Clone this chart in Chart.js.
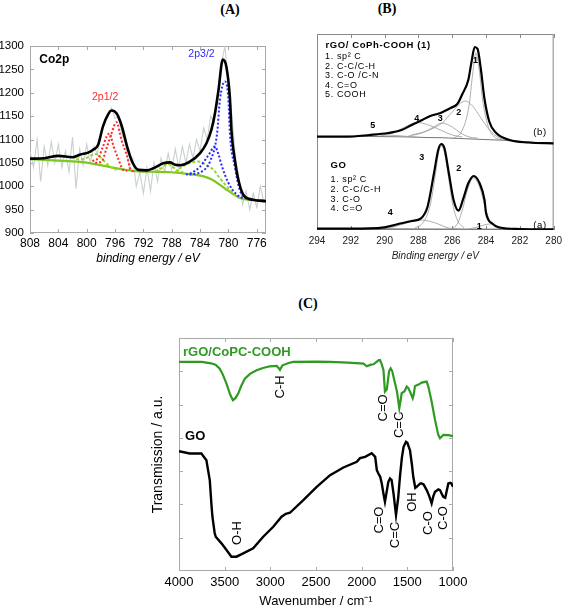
<!DOCTYPE html>
<html>
<head>
<meta charset="utf-8">
<script src="https://cdn.jsdelivr.net/npm/chart.js@4.4.1/dist/chart.umd.min.js"></script>
<style>
    body { margin: 0; background: #fff; width: 567px; height: 608px; position: relative; overflow: hidden; }
    canvas { position: absolute; }
    .panel-title { position: absolute; transform: translate(-50%, -50%); font: bold 14px "Liberation Serif", "DejaVu Serif", serif; }
</style>
</head>
<body>
<div class="panel-title" style="left:230px; top:10px;">(A)</div>
<div class="panel-title" style="left:387px; top:9px;">(B)</div>
<div class="panel-title" style="left:308px; top:304px;">(C)</div>
<canvas id="co2pChart" width="283" height="290" style="left:0; top:0;"></canvas>
<canvas id="c1sChart" width="284" height="290" style="left:283px; top:0;"></canvas>
<canvas id="irChart" width="437" height="318" style="left:130px; top:290px;"></canvas>
<script>
// (A) Co2p XPS, [binding energy eV, counts]
const co2pXTicks = [808, 804, 800, 796, 792, 788, 784, 780, 776];
const co2pYTicks = [900, 950, 1000, 1050, 1100, 1150, 1200, 1250, 1300];
const co2pRaw = [[808,1075],[807.5,1040],[807,1100],[806.5,1010],[806,1085],[805.5,1045],[805,1095],[804.5,1050],[804,1090],[803.5,1040],[803,1075],[802.5,1030],[802,1105],[801.5,995],[801,1080],[800.5,1045],[800,1090],[799.5,1050],[799,1085],[798.5,1070],[798,1110],[797.5,1135],[797,1150],[796.5,1168],[796,1145],[795.5,1150],[795,1110],[794.5,1090],[794,1040],[793.5,1060],[793,1000],[792.5,1030],[792,985],[791.5,1040],[791,990],[790.5,1050],[790,1010],[789.5,1060],[789,1030],[788.5,1070],[788,1035],[787.5,1080],[787,1040],[786.5,1085],[786,1050],[785.5,1090],[785,1060],[784.5,1100],[784,1075],[783.5,1125],[783,1100],[782.5,1150],[782,1135],[781.5,1200],[781,1260],[780.5,1300],[780,1220],[779.5,1150],[779,1060],[778.5,1015],[778,960],[777.5,990],[777,950],[776.5,985],[776,955],[775.5,1000],[775,965]];
const co2pEnvelope = [[808,1059],[806,1060],[804,1065],[802,1062],[800.9,1068],[799.8,1072],[799.1,1078],[798.4,1088],[797.7,1128],[796.9,1156],[796.5,1162],[795.8,1156],[795.1,1131],[794.3,1085],[793.6,1053],[792.7,1035],[791.5,1034],[790.5,1039],[789.2,1049],[788.3,1051],[787.5,1046],[786.8,1045],[785.4,1053],[784,1071],[783.1,1092],[782.4,1121],[781.9,1156],[781.4,1206],[780.8,1271],[780.3,1256],[779.8,1190],[779.55,1114],[779.1,1057],[778.6,1014],[777.9,982],[776.5,971],[774.7,968]];
const co2pBackground = [[808,1058],[804,1055],[801,1052],[799,1048],[797,1042],[795.3,1037],[793.5,1033],[791,1031],[788.2,1030],[785.5,1026],[783.5,1021],[782.3,1014],[781.2,1003],[780.4,994],[779.8,988],[779,980],[778.4,975],[777,971],[774.7,970]];
const co2pRedA = [[799.2,1054],[798.4,1060],[797.7,1085],[797.2,1106],[796.8,1113],[796.2,1085],[795.5,1057],[794.9,1036],[794.3,1033]];
const co2pRedB = [[798.8,1050],[797.9,1053],[797.2,1081],[796.5,1113],[795.8,1137],[795.1,1099],[794.3,1064],[793.9,1039],[793.2,1030]];
const co2pBlueA = [[785.5,1025],[784.6,1027],[783.8,1031],[782.6,1053],[781.6,1113],[781.2,1185],[780.5,1224],[780.0,1185],[779.8,1114],[779.1,1042],[778.4,992],[777.6,975],[776.8,971]];
const co2pBlueB = [[786,1025],[785.4,1027],[784,1042],[782.8,1067],[781.9,1085],[781.4,1068],[780.9,1042],[780.0,1007],[778.8,982],[777.8,973]];
const co2pSatA = [[801.5,1058],[800.5,1058],[799.6,1064],[798.8,1069],[798.2,1064],[797.7,1056],[796.7,1042],[795.8,1035]];
const co2pSatB = [[790.3,1032],[789.3,1040],[788.6,1048],[788.0,1043],[787.2,1034],[786.4,1030]];
const co2pSatC = [[787.5,1030],[786.8,1039],[785.6,1049],[784.2,1053],[783.3,1047],[782.1,1035],[781.2,1017],[780,996],[778.8,978],[777.8,973]];

// (B) C1s XPS, [binding energy eV, offset intensity]
const c1sXTicks = [294, 292, 290, 288, 286, 284, 282, 280];
const rgoEnvelope = [[294,93.3],[292.3,93.3],[290.9,95],[289.8,97],[289,100],[288.4,105],[287.9,109],[287.3,114],[286.7,117],[286.1,122],[285.7,126],[285.4,136],[285.05,150],[284.86,168],[284.67,183],[284.5,181],[284.3,160],[284.1,132],[283.8,108],[283.4,97],[282.6,90],[281.5,87.5],[280,86.7]];
const rgoBase = [[294,93.5],[290.9,93.5],[283.4,90],[280,86.3]];
const rgoPeak1 = [[286,91],[285.4,100],[285.0,125],[284.8,155],[284.6,177],[284.4,160],[284.2,130],[283.9,105],[283.5,93],[283,90]];
const rgoPeak2 = [[288.4,95],[287.5,99],[286.6,107],[286,118],[285.5,127],[285.2,129],[284.8,124],[284.3,112],[283.8,100],[283.2,92],[282.6,89.5]];
const rgoPeak3 = [[288.6,94],[287.8,97],[287.2,102],[286.6,107],[286,103],[285.5,97],[285,93],[284.5,92]];
const rgoPeak4 = [[290.2,94.5],[289.5,97],[288.8,103],[288.1,107.5],[287.4,105],[286.7,100],[286,95],[285.4,93]];
const rgoPeak5 = [[292.5,93.5],[291.3,94.3],[290.3,95],[289.3,94.5],[288,92.5]];
const goEnvelope = [[294,1.3],[290.9,1.7],[290,2.7],[289,6.7],[288.4,9],[287.85,11.7],[287.46,23.3],[287.08,56.7],[286.83,80],[286.65,86],[286.46,81.7],[286.2,56.7],[285.92,30],[285.63,19.3],[285.34,31.7],[285.05,46.7],[284.73,54],[284.38,46.7],[284.09,30],[284.0,17],[283.6,6],[283.2,2.5],[282,1],[280,0.7]];
const goBase = [[294,1.3],[280,0.7]];
const goPeak1 = [[285,1],[284.5,3],[284.0,5.5],[283.7,6],[283.3,3.5],[282.8,1]];
const goPeak2 = [[286,1.5],[285.7,6],[285.4,20],[285.1,40],[284.75,52],[284.4,44],[284.1,26],[283.8,10],[283.4,2.5],[283,1]];
const goPeak3 = [[288.2,2],[287.7,8],[287.3,25],[287,55],[286.8,78],[286.65,84],[286.5,80],[286.25,56],[286,28],[285.7,10],[285.3,2]];
const goPeak4 = [[290.5,1.5],[289.5,3],[288.6,7.5],[287.8,10],[287,7],[286.2,2],[285.5,1]];

// (C) FTIR, [wavenumber cm-1, offset transmission]
const irXTicks = [4000, 3500, 3000, 2500, 2000, 1500, 1000];
const irYTicks = [1, 2, 3, 4, 5, 6];
const irRgo = [[4000,6.28],[3750,6.28],[3650,6.24],[3600,6.2],[3554,6.08],[3520,5.9],[3480,5.63],[3440,5.3],[3410,5.13],[3380,5.2],[3352,5.33],[3320,5.55],[3279,5.78],[3220,5.93],[3150,6.03],[3080,6.1],[3005,6.15],[2930,6.16],[2910,6.1],[2895,6.04],[2880,6.12],[2866,6.18],[2800,6.25],[2750,6.28],[2500,6.29],[2346,6.28],[2150,6.26],[1980,6.23],[1944,6.15],[1900,6.2],[1870,6.21],[1816,6.33],[1799,6.34],[1779,6.2],[1761,6.03],[1745,5.39],[1725,5.45],[1700,6.0],[1683,6.09],[1665,6.0],[1640,5.7],[1614,5.4],[1588,4.89],[1575,5.1],[1562,5.34],[1530,5.4],[1507,5.54],[1490,5.5],[1471,5.39],[1441,5.19],[1430,5.3],[1416,5.56],[1377,5.6],[1343,5.66],[1288,5.69],[1270,5.54],[1234,5.09],[1197,4.54],[1161,4.09],[1142,3.99],[1120,4.05],[1106,4.09],[1050,4.08],[1015,4.06],[1000,4.04]];
const irGo = [[4000,3.6],[3883,3.53],[3755,3.53],[3700,3.33],[3680,3.0],[3663,2.73],[3645,2.0],[3634,1.63],[3610,1.15],[3598,1.03],[3535,0.83],[3480,0.63],[3426,0.43],[3371,0.43],[3297,0.53],[3188,0.68],[3078,1.03],[2968,1.33],[2877,1.63],[2830,1.72],[2785,1.75],[2639,2.13],[2492,2.53],[2346,2.88],[2200,3.11],[2053,3.28],[2018,3.39],[1962,3.43],[1890,3.54],[1852,3.43],[1834,3.03],[1817,2.93],[1797,2.83],[1780,2.63],[1760,2.3],[1745,2.08],[1725,2.4],[1708,2.68],[1690,2.78],[1672,2.73],[1650,2.3],[1624,1.68],[1600,2.2],[1581,2.83],[1560,3.4],[1541,3.73],[1515,3.88],[1500,3.85],[1471,3.63],[1450,3.2],[1435,2.83],[1413,2.5],[1398,2.53],[1358,2.63],[1343,2.63],[1322,2.6],[1288,2.43],[1260,2.25],[1234,2.03],[1215,2.25],[1197,2.38],[1160,2.45],[1142,2.43],[1120,2.3],[1106,2.23],[1085,2.2],[1051,2.63],[1030,2.65],[1018,2.63],[1000,2.53]];

const SANS = '"Liberation Sans", Arial, sans-serif';
Chart.defaults.color = "#000";
Chart.defaults.font.family = SANS;

const xy = pairs => pairs.map(([x, y]) => ({ x, y }));
const plain = value => String(value);
const noGrid = { display: false, drawTicks: false };

// box around the plot + inward tick marks on both sides
const frameTicks = {
    id: "frameTicks",
    beforeDatasetsDraw(chart, args, opts) {
        const { ctx, chartArea: { left, right, top, bottom } } = chart;
        const len = opts.length || 4;
        ctx.save();
        ctx.strokeStyle = opts.color || "#999";
        ctx.lineWidth = 1;
        ctx.strokeRect(left + 0.5, top + 0.5, right - left - 1, bottom - top - 1);
        (opts.axes || []).forEach(id => {
            const scale = chart.scales[id];
            scale.ticks.forEach(t => {
                const p = Math.round(scale.getPixelForValue(t.value)) + 0.5;
                ctx.beginPath();
                if (scale.isHorizontal()) {
                    ctx.moveTo(p, bottom); ctx.lineTo(p, bottom - len);
                    ctx.moveTo(p, top); ctx.lineTo(p, top + len);
                } else {
                    ctx.moveTo(left, p); ctx.lineTo(left + len, p);
                    ctx.moveTo(right, p); ctx.lineTo(right - len, p);
                }
                ctx.stroke();
            });
        });
        ctx.restore();
    }
};

// text labels placed at data coordinates
const notes = {
    id: "notes",
    afterDatasetsDraw(chart, args, opts) {
        const { ctx, scales: { x, y } } = chart;
        (opts.items || []).forEach(n => {
            ctx.save();
            ctx.translate(x.getPixelForValue(n.x), y.getPixelForValue(n.y));
            if (n.rotate) ctx.rotate(n.rotate * Math.PI / 180);
            ctx.font = n.font;
            ctx.fillStyle = n.color || "#000";
            ctx.textAlign = n.align || "center";
            ctx.textBaseline = "middle";
            if (n.spacing) ctx.letterSpacing = n.spacing;
            ctx.fillText(n.text, 0, 0);
            ctx.restore();
        });
    }
};

const line = (data, color, width, extra) => Object.assign({
    data: xy(data),
    borderColor: color,
    borderWidth: width,
    pointRadius: 0,
    fill: false,
    cubicInterpolationMode: "monotone"
}, extra || {});

const fixedTicks = list => scale => { scale.ticks = list.map(v => ({ value: v })); };

document.addEventListener("DOMContentLoaded", () => {
    // Chart.js - (A) Co2p
    new Chart(document.getElementById("co2pChart"), {
        type: "line",
        data: {
            datasets: [
                line(co2pEnvelope, "#000", 2.6),
                line(co2pRedA, "#ff2a2a", 2, { borderDash: [2, 2] }),
                line(co2pRedB, "#ff2a2a", 2, { borderDash: [2, 2] }),
                line(co2pBlueA, "#2b2bff", 2, { borderDash: [2, 2] }),
                line(co2pBlueB, "#2b2bff", 2, { borderDash: [2, 2] }),
                line(co2pSatA, "#99d42a", 2, { borderDash: [3, 2] }),
                line(co2pSatB, "#99d42a", 2, { borderDash: [3, 2] }),
                line(co2pSatC, "#99d42a", 2, { borderDash: [3, 2] }),
                line(co2pBackground, "#7cc81e", 2.2),
                line(co2pRaw, "#c8d0d2", 1.1, { cubicInterpolationMode: "default", tension: 0 })
            ]
        },
        plugins: [frameTicks, notes],
        options: {
            responsive: false,
            animation: false,
            devicePixelRatio: 1,
            layout: { padding: { left: 0, top: 46, right: 17, bottom: 0 } },
            plugins: {
                legend: { display: false },
                tooltip: { enabled: false },
                frameTicks: { color: "#a8a8a8", length: 4, axes: ["x", "y"] },
                notes: {
                    items: [
                        { text: "Co2p", x: 806.7, y: 1270, font: "bold 12px " + SANS, align: "left" },
                        { text: "2p1/2", x: 797.4, y: 1190, font: "10.5px " + SANS, color: "#ff2a2a" },
                        { text: "2p3/2", x: 783.8, y: 1283, font: "10.5px " + SANS, color: "#2b2bff" }
                    ]
                }
            },
            scales: {
                x: {
                    type: "linear", reverse: true, min: 774.7, max: 808,
                    afterBuildTicks: fixedTicks(co2pXTicks),
                    afterFit: s => { s.height = 57; },
                    grid: noGrid, border: { display: false },
                    ticks: { font: { size: 12 }, padding: 3, maxRotation: 0, callback: plain },
                    title: { display: true, text: "binding energy / eV", font: { size: 12, style: "italic" }, padding: { top: 0, bottom: 24.5 } }
                },
                y: {
                    min: 900, max: 1300,
                    afterBuildTicks: fixedTicks(co2pYTicks),
                    afterFit: s => { s.width = 30; },
                    grid: noGrid, border: { display: false },
                    ticks: { font: { size: 11.5 }, padding: 6, callback: plain }
                }
            }
        }
    });

    // Chart.js - (B) C1s
    const thin = "#9a9a9a";
    new Chart(document.getElementById("c1sChart"), {
        type: "line",
        data: {
            datasets: [
                line(rgoEnvelope, "#000", 2.2),
                line(goEnvelope, "#000", 2.2),
                line(rgoPeak1, thin, 0.8),
                line(rgoPeak2, thin, 0.8),
                line(rgoPeak3, thin, 0.8),
                line(rgoPeak4, thin, 0.8),
                line(rgoPeak5, thin, 0.8),
                line(rgoBase, "#777", 1.2),
                line(goPeak1, thin, 0.8),
                line(goPeak2, thin, 0.8),
                line(goPeak3, thin, 0.8),
                line(goPeak4, thin, 0.8),
                line(goBase, "#777", 1.2)
            ]
        },
        plugins: [frameTicks, notes],
        options: {
            responsive: false,
            animation: false,
            devicePixelRatio: 1,
            layout: { padding: { left: 34, top: 34, right: 8, bottom: 0 } },
            plugins: {
                legend: { display: false },
                tooltip: { enabled: false },
                frameTicks: { color: "#888", length: 4, axes: ["x"] },
                notes: {
                    items: [
                        { text: "rGO/ CoPh-COOH (1)", x: 293.5, y: 184.5, font: "bold 9.5px " + SANS, align: "left", spacing: "0.6px" },
                        { text: "1. sp² C", x: 293.52, y: 173, font: "9px " + SANS, align: "left", spacing: "0.6px" },
                        { text: "2. C-C/C-H", x: 293.52, y: 163.5, font: "9px " + SANS, align: "left", spacing: "0.6px" },
                        { text: "3. C-O /C-N", x: 293.52, y: 154, font: "9px " + SANS, align: "left", spacing: "0.6px" },
                        { text: "4. C=O", x: 293.52, y: 144.5, font: "9px " + SANS, align: "left", spacing: "0.6px" },
                        { text: "5. COOH", x: 293.52, y: 135, font: "9px " + SANS, align: "left", spacing: "0.6px" },
                        { text: "1", x: 284.63, y: 169, font: "bold 9px " + SANS },
                        { text: "2", x: 285.61, y: 117.5, font: "bold 9px " + SANS },
                        { text: "3", x: 286.71, y: 111.5, font: "bold 9px " + SANS },
                        { text: "4", x: 288.1, y: 111.5, font: "bold 9px " + SANS },
                        { text: "5", x: 290.7, y: 104, font: "bold 9px " + SANS },
                        { text: "(b)", x: 280.81, y: 98, font: "9.5px " + SANS, spacing: "0.6px" },
                        { text: "GO", x: 293.2, y: 65, font: "bold 9.5px " + SANS, align: "left", spacing: "0.6px" },
                        { text: "1. sp² C", x: 293.2, y: 50, font: "9px " + SANS, align: "left", spacing: "0.6px" },
                        { text: "2. C-C/C-H", x: 293.2, y: 40.5, font: "9px " + SANS, align: "left", spacing: "0.6px" },
                        { text: "3. C-O", x: 293.2, y: 30.5, font: "9px " + SANS, align: "left", spacing: "0.6px" },
                        { text: "4. C=O", x: 293.2, y: 21, font: "9px " + SANS, align: "left", spacing: "0.6px" },
                        { text: "3", x: 287.81, y: 72, font: "bold 9px " + SANS },
                        { text: "2", x: 285.61, y: 61, font: "bold 9px " + SANS },
                        { text: "4", x: 289.66, y: 17, font: "bold 9px " + SANS },
                        { text: "1", x: 284.4, y: 3, font: "bold 9px " + SANS },
                        { text: "(a)", x: 280.81, y: 5, font: "9.5px " + SANS, spacing: "0.6px" }
                    ]
                }
            },
            scales: {
                x: {
                    type: "linear", reverse: true, min: 280, max: 294,
                    afterBuildTicks: fixedTicks(c1sXTicks),
                    afterFit: s => { s.height = 60; },
                    grid: noGrid, border: { display: false },
                    ticks: { font: { size: 10 }, color: "#222", padding: 5, maxRotation: 0, callback: plain },
                    title: { display: true, text: "Binding energy / eV", color: "#222", font: { size: 10, style: "italic" }, padding: { top: 0, bottom: 28 } }
                },
                y: { display: false, min: 0, max: 196 }
            }
        }
    });

    // Chart.js - (C) FTIR
    const rot = { rotate: -90, font: "13px " + SANS };
    new Chart(document.getElementById("irChart"), {
        type: "line",
        data: {
            datasets: [
                line(irRgo, "#2e9a22", 2.2, { cubicInterpolationMode: "default", tension: 0 }),
                line(irGo, "#000", 2.4, { cubicInterpolationMode: "default", tension: 0 })
            ]
        },
        plugins: [frameTicks, notes],
        options: {
            responsive: false,
            animation: false,
            devicePixelRatio: 1,
            layout: { padding: { left: 0, top: 48, right: 114, bottom: 0 } },
            plugins: {
                legend: { display: false },
                tooltip: { enabled: false },
                frameTicks: { color: "#aaa", length: 4, axes: ["x", "y"] },
                notes: {
                    items: [
                        { text: "rGO/CoPC-COOH", x: 3956, y: 6.58, font: "bold 13px " + SANS, color: "#2e9a22", align: "left" },
                        { text: "GO", x: 3934, y: 4.03, font: "bold 13px " + SANS, align: "left" },
                        Object.assign({ text: "C-H", x: 2894, y: 5.53 }, rot),
                        Object.assign({ text: "C=O", x: 1766, y: 4.9 }, rot),
                        Object.assign({ text: "C=C", x: 1591, y: 4.39 }, rot),
                        Object.assign({ text: "O-H", x: 3365, y: 1.14 }, rot),
                        Object.assign({ text: "C=O", x: 1810, y: 1.53 }, rot),
                        Object.assign({ text: "C=C", x: 1635, y: 1.08 }, rot),
                        Object.assign({ text: "OH", x: 1449, y: 2.07 }, rot),
                        Object.assign({ text: "C-O", x: 1274, y: 1.44 }, rot),
                        Object.assign({ text: "C-O", x: 1109, y: 1.59 }, rot)
                    ]
                }
            },
            scales: {
                x: {
                    type: "linear", reverse: true, min: 1000, max: 4000,
                    afterBuildTicks: fixedTicks(irXTicks),
                    afterFit: s => { s.height = 37; },
                    grid: noGrid, border: { display: false },
                    ticks: { font: { size: 13 }, padding: 4, maxRotation: 0, callback: plain },
                    title: { display: true, text: "Wavenumber / cm⁻¹", font: { size: 13, lineHeight: 1 }, padding: 0 }
                },
                y: {
                    min: 0, max: 7,
                    afterBuildTicks: fixedTicks(irYTicks),
                    afterFit: s => { s.width = 49; },
                    grid: noGrid, border: { display: false },
                    ticks: { display: false },
                    title: { display: true, text: "Transmission / a.u.", font: { size: 14 }, padding: { top: 19.6, bottom: 0 } }
                }
            }
        }
    });
});
</script>
</body>
</html>
